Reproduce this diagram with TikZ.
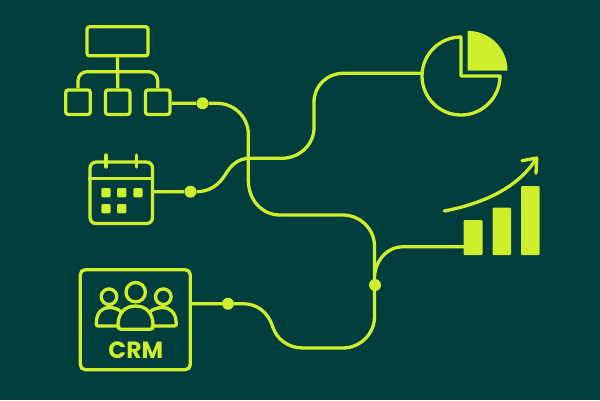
\documentclass[tikz,border=0pt]{standalone}
\usepackage{fontspec}
\setmainfont{Poppins}
\definecolor{bg}{HTML}{003D3D}
\definecolor{lime}{HTML}{CFEE2B}
\tikzset{
  wire/.style={draw=lime,line width=3.3pt},
  ln/.style={draw=lime,line width=3.3pt,line cap=round,line join=round},
  boxn/.style={draw=lime,line width=3.3pt,rounded corners=2.5pt,inner sep=0pt},
  fillb/.style={fill=lime,rounded corners=1pt},
  dotn/.style={circle,fill=lime,inner sep=0pt,minimum size=12pt},
}
\begin{document}
\begin{tikzpicture}[x=1pt,y=-1pt]
\useasboundingbox (0,0) rectangle (600,400);
\fill[bg] (0,0) rectangle (600,400);
% hierarchy
\node[boxn,minimum width=61pt,minimum height=29pt] (top) at (117.5,41.3) {};
\node[boxn,minimum width=24.5pt,minimum height=24.5pt] (c1) at (78,102.2) {};
\node[boxn,minimum width=24.5pt,minimum height=24.5pt] (c2) at (117.7,102.2) {};
\node[boxn,minimum width=24.5pt,minimum height=24.5pt] (c3) at (157.7,102.2) {};
\draw[wire] (top.south) -- (c2.north);
\draw[wire,rounded corners=9pt] (c1.north) |- (117.7,71.7) -| (c3.north);
% calendar
\node[boxn,rounded corners=6pt,minimum width=62.5pt,minimum height=61.5pt] (cal) at (121.3,192.8) {};
\draw[wire] (cal.west |- 0,178.5) -- (cal.east |- 0,178.5);
\draw[ln] (106,155) -- (106,167);
\draw[ln] (136.7,155) -- (136.7,167);
\foreach \x/\y in {106/192.7,121.8/192.7,138/192.7,106/208.7,121.8/208.7}
  \fill[fillb] (\x-4.6,\y-4.6) rectangle (\x+4.6,\y+4.6);
% CRM
\node[boxn,rounded corners=5pt,minimum width=110pt,minimum height=100pt] (crm) at (135.3,319.7) {};
\node[text=lime,font=\fontsize{23.5}{23.5}\selectfont\bfseries,inner sep=0pt] (crmt) at (135.8,350) {CRM};
\draw[wire] (135.7,292.2) circle (9.7);
\draw[wire] (109,296.7) circle (7.8);
\draw[wire] (163.3,296.7) circle (7.8);
\draw[ln] (119,326) -- (99,326) .. controls (96,326) and (96,325) .. (96.5,321) .. controls (97,312) and (103,307.5) .. (109,307.5) .. controls (113,307.5) and (118,308.5) .. (122,312.5);
\draw[ln] (152,326) -- (173.5,326) .. controls (176.5,326) and (176.5,325) .. (176,321) .. controls (175.5,312) and (169,307.5) .. (163,307.5) .. controls (159,307.5) and (153,308.5) .. (149,312.5);
\draw[ln] (121.5,329.3) -- (150,329.3) .. controls (152.5,329.3) and (153,328.5) .. (153,325) .. controls (153,313) and (146,306) .. (135.5,306) .. controls (125,306) and (118,313) .. (118,325) .. controls (118,328.5) and (119,329.3) .. (121.5,329.3);
% pie
\draw[wire,line join=round] (461,37) -- (461,76) -- (500,76) arc[start angle=0,delta angle=270,radius=39] -- cycle;
\fill[lime,rounded corners=0.5pt] (467.7,30) -- (467.7,70.7) -- (507.5,70.7) arc[start angle=0,delta angle=-90,radius=39.8] -- cycle;
% bars
\fill[fillb] (463.5,220) rectangle (482.5,255);
\fill[fillb] (492.5,207.5) rectangle (511,255);
\fill[fillb] (521,186) rectangle (539.5,255);
\draw[ln] (444.3,211) .. controls (481,204) and (517,189) .. (536,159);
\draw[ln] (522,160.7) -- (536.7,158) -- (536,173.3);
% wires
\node[dotn] (d1) at (202.5,103.3) {};
\node[dotn] (d2) at (190.5,191.7) {};
\node[dotn] (d3) at (228,303.7) {};
\node[dotn] (d4) at (375,285) {};
\coordinate (pl) at (423,73.3);
\draw[wire] (c3.east |- d1) -- (d1) -- (217,103.3) .. controls (234,103.3) and (248.3,117) .. (248.3,134) -- (248.3,180) .. controls (248.3,200) and (262,215) .. (280,215) -- (343,215) .. controls (360,215) and (374.5,229) .. (374.5,246) -- (374.5,316.7) .. controls (374.5,334) and (360,348) .. (343,348) -- (303,348) .. controls (289,348) and (277,340) .. (272.7,326.7) .. controls (268,312) and (257,303.7) .. (243,303.7) -- (d3) -- (crm.east |- d3);
\draw[wire] (cal.east |- d2) -- (d2) -- (197,191.7) .. controls (209,191.7) and (219,185) .. (225,175) .. controls (231,165) and (238,158.3) .. (250,158.3) -- (281.7,158.3) .. controls (300,158.3) and (314,144) .. (314,128) -- (314,102) .. controls (314,86) and (327,73.3) .. (343,73.3) -- (pl);
\draw[wire] (374.5,276) .. controls (376,259) and (388,246.7) .. (403,246.7) -- (465,246.7);
\end{tikzpicture}
\end{document}
